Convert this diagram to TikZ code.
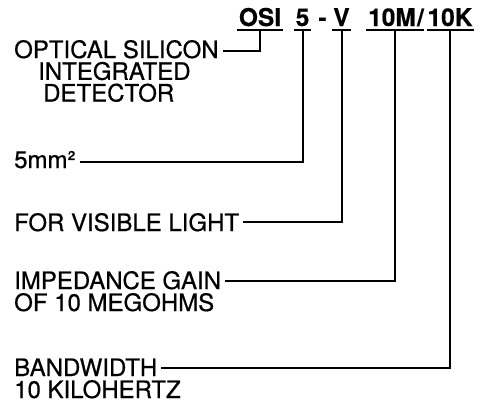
\documentclass[tikz,border=0pt]{standalone}
\usepackage{fontspec}
\setmainfont{TeX Gyre Heros}[FakeBold=0.6,BoldFeatures={FakeBold=0.5}]
\begin{document}
\begin{tikzpicture}[x=1pt,y=-1pt,
  lbl/.style={inner xsep=4pt, inner ysep=0pt, anchor=base west, font=\fontsize{24}{26}\selectfont},
  hdr/.style={inner sep=0pt, anchor=base, font=\fontsize{24.5}{26}\selectfont\bfseries},
  wire/.style={line width=2pt},
  ul/.style={line width=2pt}]
\useasboundingbox (0,0) rectangle (487,402);

% header code
\node[hdr] (osi)   at (260,26)   {OSI};
\node[hdr] (five)  at (302.5,26) {5};
\node[hdr] (dash)  at (322.5,26) {-};
\node[hdr] (vis)   at (341.5,26) {V};
\node[hdr] (tenm)  at (392,26)   {10M};
\node[hdr] (slash) at (420.5,26) {/};
\node[hdr] (tenk)  at (450,26)   {10K};

% underlines
\draw[ul] ([shift={(-1.5pt,-3.5pt)}]osi.base west) -- ([shift={(1.5pt,-3.5pt)}]osi.base east);
\draw[ul] ([shift={(-1.5pt,-3.5pt)}]five.base west) -- ([shift={(1.5pt,-3.5pt)}]five.base east);
\draw[ul] ([shift={(-1.5pt,-3.5pt)}]vis.base west) -- ([shift={(1.5pt,-3.5pt)}]vis.base east);
\draw[ul] ([shift={(-1.5pt,-3.5pt)}]tenm.base west) -- ([shift={(0pt,-3.5pt)}]slash.base east);
\draw[ul] ([shift={(-0.5pt,-3.5pt)}]tenk.base west) -- ([shift={(1.5pt,-3.5pt)}]tenk.base east);

% labels
\node[lbl] (opt)   at (10,58)    {OPTICAL SILICON};
\node[lbl] (integ) at (34,79.8)  {INTEGRATED};
\node[lbl] (det)   at (39,101.5) {DETECTOR};
\node[lbl] (area)  at (10,168)   {5mm²};
\node[lbl] (light) at (10,231)   {FOR VISIBLE LIGHT};
\node[lbl] (imp)   at (10,289)   {IMPEDANCE GAIN};
\node[lbl] (imp2)  at (10,311)   {OF 10 MEGOHMS};
\node[lbl] (bw)    at (10,376)   {BANDWIDTH};
\node[lbl] (bw2)   at (10,398)   {10 KILOHERTZ};

% connectors
\draw[wire] ([yshift=-3.5pt]osi.base) |- ([yshift=7pt]opt.base east);
\draw[wire] ([yshift=-3.5pt]five.base) |- ([yshift=6.5pt]area.base east);
\draw[wire] ([yshift=-3.5pt]vis.base) |- ([yshift=9pt]light.base east);
\draw[wire] ([shift={(3pt,-3.5pt)}]tenm.base) |- ([yshift=8pt]imp.base east);
\draw[wire] ([yshift=-3.5pt]tenk.base) |- ([yshift=8pt]bw.base east);
\end{tikzpicture}
\end{document}
